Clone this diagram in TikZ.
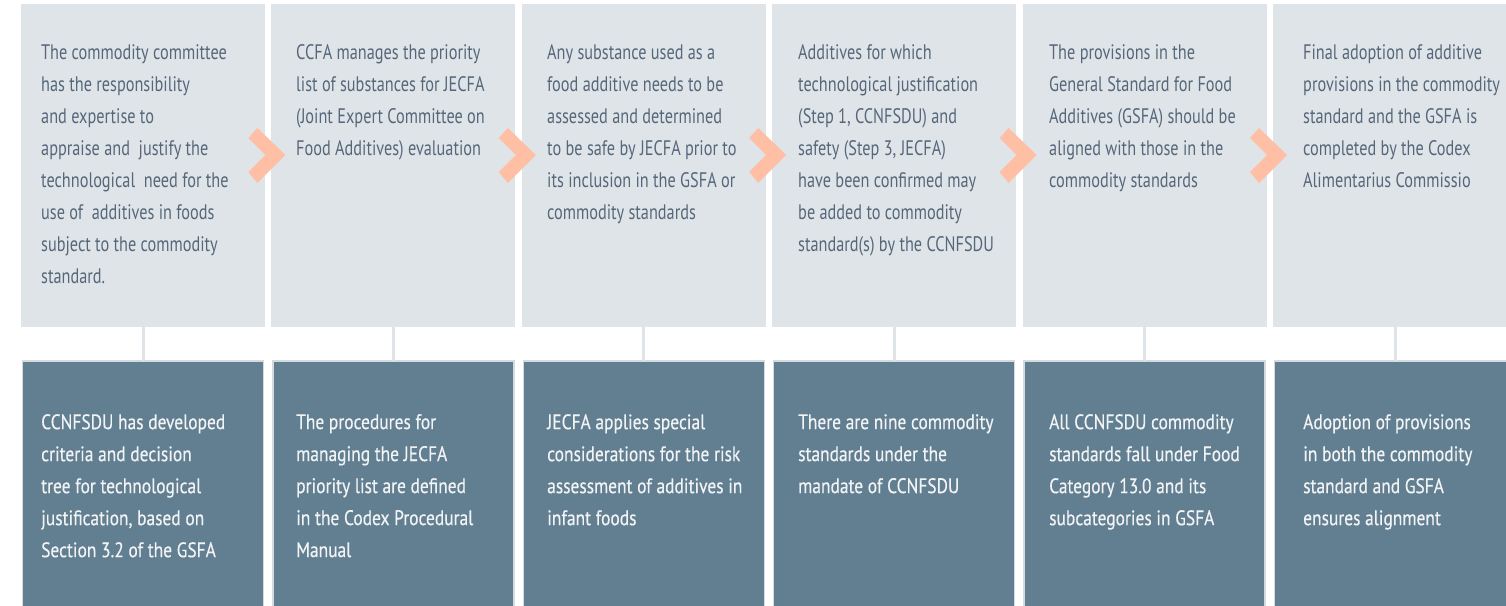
\documentclass[tikz,border=0pt]{standalone}
\usepackage{fontspec}
\setmainfont[FakeStretch=0.775]{PT Sans}
\newfontfamily\lowfont[FakeStretch=0.83, FakeBold=0.4]{PT Sans}
\usetikzlibrary{positioning}
\definecolor{boxgray}{HTML}{DFE4E9}
\definecolor{boxslate}{HTML}{627F91}
\definecolor{boxedge}{HTML}{D3DBE1}
\definecolor{inkgray}{HTML}{56677A}
\definecolor{inklight}{HTML}{F1F3F5}
\definecolor{chevron}{HTML}{FFBFA4}

\begin{document}
\begin{tikzpicture}
  [x=1pt, y=-1pt,
   topbox/.style={rectangle, fill=boxgray, outer sep=0pt, inner sep=0pt,
     minimum width=244pt, minimum height=323pt},
   botbox/.style={rectangle, fill=boxslate, draw=boxedge, line width=1.5pt,
     outer sep=0pt, inner sep=0pt, minimum width=241pt, minimum height=270pt},
   toptext/.style={inner sep=0pt, align=left, text=inkgray,
     font=\fontsize{21}{32}\selectfont},
   bottext/.style={inner sep=0pt, align=left, text=inklight,
     font=\lowfont\fontsize{21}{32}\selectfont},
   link/.style={draw=boxgray, line width=3pt},
   chev/.style={fill=chevron}]
  \clip (0,0) rectangle (1506,605);
  \useasboundingbox (0,0) rectangle (1506,605);
  % upper row
  \node[topbox, anchor=north west] (top1) at (21,4) {};
  \node[topbox, right=6.4pt of top1] (top2) {};
  \node[topbox, right=6.4pt of top2] (top3) {};
  \node[topbox, right=6.4pt of top3] (top4) {};
  \node[topbox, right=6.4pt of top4] (top5) {};
  \node[topbox, right=6.4pt of top5] (top6) {};
  % lower row
  \node[botbox, below=34pt of top1] (bot1) {};
  \node[botbox, below=34pt of top2] (bot2) {};
  \node[botbox, below=34pt of top3] (bot3) {};
  \node[botbox, below=34pt of top4] (bot4) {};
  \node[botbox, below=34pt of top5] (bot5) {};
  \node[botbox, below=34pt of top6] (bot6) {};
  % links between rows
  \draw[link] (top1.south) -- (bot1.north);
  \draw[link] (top2.south) -- (bot2.north);
  \draw[link] (top3.south) -- (bot3.north);
  \draw[link] (top4.south) -- (bot4.north);
  \draw[link] (top5.south) -- (bot5.north);
  \draw[link] (top6.south) -- (bot6.north);
  % chevrons
  \coordinate (g1) at (268.4,155);
  \coordinate (g2) at (518.8,155);
  \coordinate (g3) at (769.2,155);
  \coordinate (g4) at (1019.6,155);
  \coordinate (g5) at (1270.0,155);
  \fill[chev, shift={(g1)}] (-20,-17) -- (-11,-27) -- (17,0) -- (-11,28) -- (-20,17) -- (-3,0) -- cycle;
  \fill[chev, shift={(g2)}] (-20,-17) -- (-11,-27) -- (17,0) -- (-11,28) -- (-20,17) -- (-3,0) -- cycle;
  \fill[chev, shift={(g3)}] (-20,-17) -- (-11,-27) -- (17,0) -- (-11,28) -- (-20,17) -- (-3,0) -- cycle;
  \fill[chev, shift={(g4)}] (-20,-17) -- (-11,-27) -- (17,0) -- (-11,28) -- (-20,17) -- (-3,0) -- cycle;
  \fill[chev, shift={(g5)}] (-20,-17) -- (-11,-27) -- (17,0) -- (-11,28) -- (-20,17) -- (-3,0) -- cycle;
  % upper texts
  \node[toptext, below right=40pt and 20pt of top1.north west] (t1)
    {The commodity committee\\has the responsibility\\and expertise to\\appraise and\ \ justify the\\technological\ \ need for the\\use of\ \ additives in foods\\subject to the commodity\\standard.};
  \node[toptext, below right=40pt and 24.6pt of top2.north west] (t2)
    {CCFA manages the priority\\list of substances for JECFA\\(Joint Expert Committee on\\Food Additives) evaluation};
  \node[toptext, below right=40pt and 25.2pt of top3.north west] (t3)
    {Any substance used as a\\food additive needs to be\\assessed and determined\\to be safe by JECFA prior to\\its inclusion in the GSFA or\\commodity standards};
  \node[toptext, below right=40pt and 25.8pt of top4.north west] (t4)
    {Additives for which\\technological justification\\(Step 1, CCNFSDU) and\\safety (Step 3, JECFA)\\have been confirmed may\\be added to commodity\\standard(s) by the CCNFSDU};
  \node[toptext, below right=40pt and 26.4pt of top5.north west] (t5)
    {The provisions in the\\General Standard for Food\\Additives (GSFA) should be\\aligned with those in the\\commodity standards};
  \node[toptext, below right=40pt and 30pt of top6.north west] (t6)
    {Final adoption of additive\\provisions in the commodity\\standard and the GSFA is\\completed by the Codex\\Alimentarius Commissio};
  % lower texts
  \node[bottext, below right=53pt and 20pt of top1.north west |- bot1.north] (b1)
    {CCNFSDU has developed\\criteria and decision\\tree for technological\\justification, based on\\Section 3.2 of the GSFA};
  \node[bottext, below right=53pt and 24.6pt of top2.north west |- bot2.north] (b2)
    {The procedures for\\managing the JECFA\\priority list are defined\\in the Codex Procedural\\Manual};
  \node[bottext, below right=53pt and 25.2pt of top3.north west |- bot3.north] (b3)
    {JECFA applies special\\considerations for the risk\\assessment of additives in\\infant foods};
  \node[bottext, below right=53pt and 25.8pt of top4.north west |- bot4.north] (b4)
    {There are nine commodity\\standards under the\\mandate of CCNFSDU};
  \node[bottext, below right=53pt and 26.4pt of top5.north west |- bot5.north] (b5)
    {All CCNFSDU commodity\\standards fall under Food\\Category 13.0 and its\\subcategories in GSFA};
  \node[bottext, below right=53pt and 30pt of top6.north west |- bot6.north] (b6)
    {Adoption of provisions\\in both the commodity\\standard and GSFA\\ensures alignment};
\end{tikzpicture}
\end{document}
